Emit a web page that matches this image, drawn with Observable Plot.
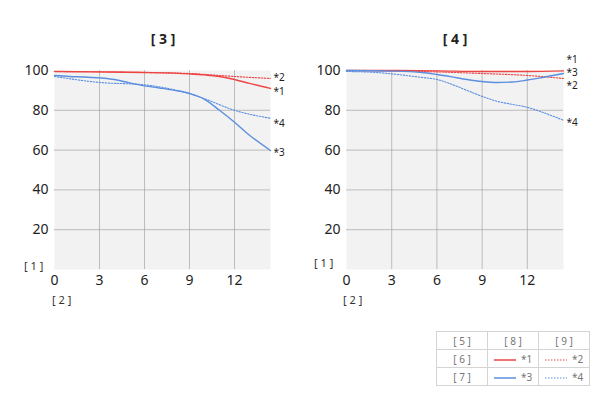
<!DOCTYPE html>
<html><head><meta charset="utf-8">
<script src="https://cdn.jsdelivr.net/npm/d3@7"></script>
<script src="https://cdn.jsdelivr.net/npm/@observablehq/plot@0.6"></script>
<style>
body{margin:0;background:#fff;font-family:"Noto Sans",sans-serif;}
#wrap{position:relative;width:600px;height:400px;}
.abs{position:absolute;}
.title{font-size:14px;font-weight:bold;color:#222;transform:translateX(-50%);}
.small{font-size:11px;color:#333;}
table{border-collapse:collapse;font-size:10px;color:#777;}
td{border:1px solid #d4d4d4;width:50px;height:17px;text-align:center;padding:0;}
td svg{vertical-align:middle;margin-right:5px;}
</style></head>
<body><div id="wrap"></div>
<script>
const xTicks = [0, 3, 6, 9, 12];
const yTicks = [20, 40, 60, 80, 100];
const seriesNames = ["*1", "*2", "*3", "*4"];
const panelTitles = ["[ 3 ]", "[ 4 ]"];
// left panel
const L1x = [0, 3, 6, 9, 10, 11, 12, 13, 14.4];
const L1y = [99.5, 99.3, 99, 98.3, 97.8, 97, 95.5, 93.5, 91];
const L2x = [0, 3, 6, 9, 11, 12, 14.4];
const L2y = [99.5, 99.3, 99, 98.5, 97.5, 97, 96];
const L3x = [0, 1, 2, 3, 4, 5, 6, 7, 8, 9, 10, 11, 12, 13, 14.4];
const L3y = [97.5, 97, 96.7, 96.3, 95.5, 93.8, 92.3, 91.2, 90, 88.5, 85.5, 80, 74, 67.5, 59.8];
const L4x = [0, 3, 6, 9, 10, 12, 14.4];
const L4y = [97, 94, 92.8, 88.3, 85.8, 80, 76];
const Llab = [89.4, 96.5, 58.8, 73.4];
// right panel
const R1x = [0, 3, 6, 9, 12, 14.4];
const R1y = [100, 100, 99.8, 99.5, 99.5, 99.8];
const R2x = [0, 3, 6, 9, 12, 14.4];
const R2y = [100, 99.8, 99.3, 98.5, 97.5, 96];
const R3x = [0, 3, 5, 6, 7, 8, 9, 10, 11, 12, 13, 14.4];
const R3y = [100, 99.7, 99, 98, 96.8, 95.5, 94.5, 94, 94.2, 95.2, 96.5, 98.5];
const R4x = [0, 2, 3, 5, 6, 7, 8, 9, 10, 11, 12, 13, 14.4];
const R4y = [99.5, 99, 98.3, 96.5, 95.5, 93, 90, 87, 84.5, 83, 81.5, 79, 75];
const Rlab = [105.5, 92.2, 98.8, 73.9];

const colors = ["#ee4444", "#ee4444", "#5b8fe0", "#5b8fe0"];
const dashes = [null, "1.5,1.5", null, "1.5,1.5"];
const widths = [1.4, 1.1, 1.4, 1.1];

function rows(xs, ys) { return xs.map((x, i) => ({x, y: ys[i]})); }

function panel(series, labs, ml, mr) {
  const marks = [
    Plot.frame({fill: "#f2f2f2", stroke: null}),
    Plot.gridX(xTicks.slice(1), {stroke: "#999", strokeOpacity: 0.6}),
    Plot.gridY(yTicks.slice(0, 4), {stroke: "#999", strokeOpacity: 0.6}),
  ];
  series.forEach((s, i) => {
    marks.push(Plot.line(s, {x: "x", y: "y", stroke: colors[i], strokeWidth: widths[i],
      strokeDasharray: dashes[i], curve: "monotone-x"}));
  });
  marks.push(Plot.text(seriesNames.map((n, i) => ({n, y: labs[i]})),
    {x: 14.4, y: "y", text: "n", textAnchor: "start", dx: 3, fontSize: 10, fill: "#222"}));
  return Plot.plot({
    width: 300, height: 320, marginTop: 70, marginBottom: 51, marginLeft: ml, marginRight: mr,
    style: {fontFamily: "Noto Sans", fontSize: "14px", color: "#222", overflow: "visible"},
    x: {domain: [0, 14.4], ticks: xTicks, tickSize: 0, tickPadding: 6, label: null},
    y: {domain: [0, 100], ticks: yTicks, tickSize: 0, tickPadding: 6, label: null},
    marks
  });
}

const wrap = document.getElementById("wrap");
function place(el, left, top) { el.style.position = "absolute"; el.style.left = left + "px"; el.style.top = top + "px"; wrap.appendChild(el); }

place(panel([rows(L1x, L1y), rows(L2x, L2y), rows(L3x, L3y), rows(L4x, L4y)], Llab, 54, 30), 0, 0);
place(panel([rows(R1x, R1y), rows(R2x, R2y), rows(R3x, R3y), rows(R4x, R4y)], Rlab, 46, 37), 300, 0);

function txt(cls, s, left, top) { const d = document.createElement("div"); d.className = "abs " + cls; d.textContent = s; d.style.left = left + "px"; d.style.top = top + "px"; wrap.appendChild(d); }
txt("title", panelTitles[0], 163, 29);
txt("title", panelTitles[1], 455, 29);
txt("small", "[ 1 ]", 24, 258);
txt("small", "[ 2 ]", 52, 292);
txt("small", "[ 1 ]", 314, 255);
txt("small", "[ 2 ]", 343, 292);

const legendHead = ["[ 5 ]", "[ 8 ]", "[ 9 ]"];
const legendRows = ["[ 6 ]", "[ 7 ]"];
const tbl = document.createElement("table");
let h = "<tr>" + legendHead.map(t => `<td>${t}</td>`).join("") + "</tr>";
legendRows.forEach((r, ri) => {
  h += `<tr><td>${r}</td>`;
  [0, 1].forEach(k => {
    const i = ri * 2 + k;
    const da = dashes[i] ? ` stroke-dasharray="1.5,1.5"` : "";
    h += `<td><svg width="22" height="4"><line x1="0" x2="22" y1="2" y2="2" stroke="${colors[i]}" stroke-width="${dashes[i] ? 1.2 : 1.5}"${da}/></svg>${seriesNames[i]}</td>`;
  });
  h += "</tr>";
});
tbl.innerHTML = h;
place(tbl, 436, 331);
</script></body></html>
